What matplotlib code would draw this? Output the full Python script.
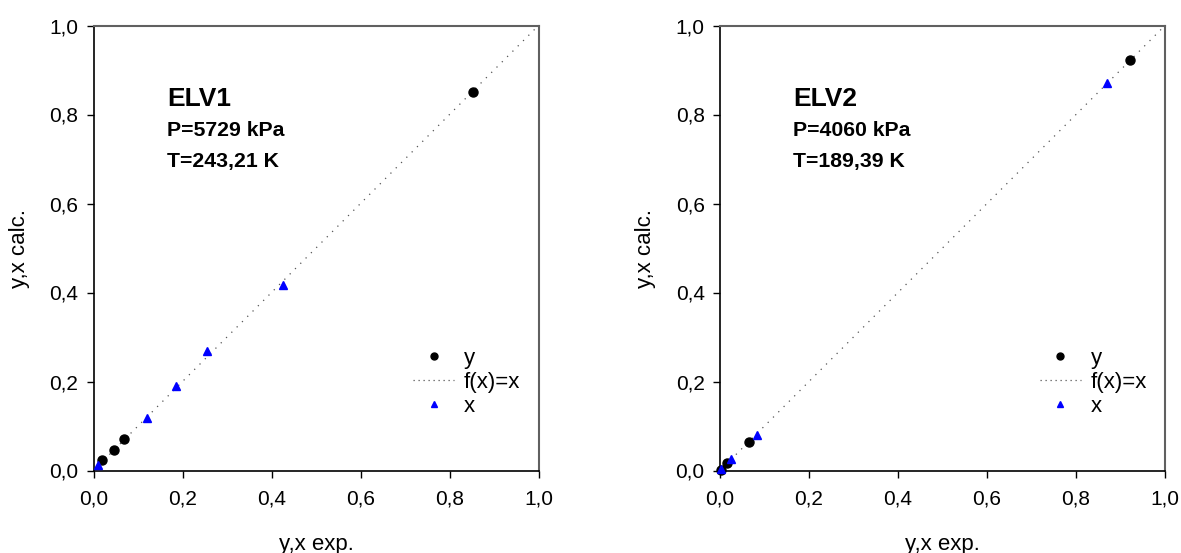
import matplotlib
matplotlib.use("Agg")
import matplotlib.pyplot as plt
from matplotlib.lines import Line2D
from matplotlib.ticker import FuncFormatter
import numpy as np

plt.rcParams["font.family"] = ["Liberation Sans", "DejaVu Sans"]

# ELV1 data
elv1_y_exp = [0.020, 0.045, 0.069, 0.852]
elv1_y_calc = [0.023, 0.046, 0.070, 0.851]
elv1_x_exp = [0.009, 0.120, 0.185, 0.255, 0.426]
elv1_x_calc = [0.012, 0.117, 0.190, 0.268, 0.416]

# ELV2 data
elv2_y_exp = [0.002, 0.016, 0.065, 0.921]
elv2_y_calc = [0.002, 0.017, 0.064, 0.922]
elv2_x_exp = [0.002, 0.025, 0.083, 0.869]
elv2_x_calc = [0.003, 0.026, 0.079, 0.870]

panels = [
    ("ELV1", "P=5729 kPa", "T=243,21 K", elv1_y_exp, elv1_y_calc, elv1_x_exp, elv1_x_calc),
    ("ELV2", "P=4060 kPa", "T=189,39 K", elv2_y_exp, elv2_y_calc, elv2_x_exp, elv2_x_calc),
]

ticks = [0.0, 0.2, 0.4, 0.6, 0.8, 1.0]
W, H = 1181, 553
fig = plt.figure(figsize=(W / 100, H / 100), dpi=100)

lefts = [93.5, 720]
comma = FuncFormatter(lambda v, p: f"{v:.1f}".replace(".", ","))

for left, (name, ptxt, ttxt, ye, yc, xe, xc) in zip(lefts, panels):
    ax = fig.add_axes([left / W, (H - 470.5) / H, 445 / W, 445 / H])
    line = np.array([0, 1])
    ax.plot(line, line, color="#555555", linestyle=(0, (1, 5)), linewidth=0.9)
    ax.plot(ye, yc, "o", color="black", markersize=6.5, clip_on=False, zorder=3)
    ax.plot(xe, xc, "^", color="#0000ff", markersize=6, clip_on=False, zorder=3)

    ax.set_xlim(0, 1)
    ax.set_ylim(0, 1)
    ax.set_xticks(ticks)
    ax.set_yticks(ticks)
    ax.xaxis.set_major_formatter(comma)
    ax.yaxis.set_major_formatter(comma)
    ax.tick_params(direction="out", length=5, width=1, labelsize=15, pad=6)
    ax.tick_params(axis="x", pad=9)

    for s in ["left", "bottom"]:
        ax.spines[s].set_color("black")
        ax.spines[s].set_linewidth(1.2)
    for s in ["top", "right"]:
        ax.spines[s].set_color("#606060")
        ax.spines[s].set_linewidth(1.5)

    ax.set_xlabel("y,x exp.", fontsize=16, labelpad=18)
    ax.set_ylabel("y,x calc.", fontsize=16, labelpad=14)

    ax.text(0.165, 0.862, name, transform=ax.transAxes, fontsize=19,
            fontweight="bold", va="top", ha="left")
    ax.text(0.165, 0.785, ptxt, transform=ax.transAxes, fontsize=15.3,
            fontweight="bold", va="top", ha="left")
    ax.text(0.165, 0.716, ttxt, transform=ax.transAxes, fontsize=15.3,
            fontweight="bold", va="top", ha="left")

    handles = [
        Line2D([], [], marker="o", color="black", linestyle="none", markersize=5),
        Line2D([], [], color="#555555", linestyle=(0, (1, 3)), linewidth=0.9),
        Line2D([], [], marker="^", color="#0000ff", linestyle="none", markersize=5),
    ]
    ax.legend(handles, ["y", "f(x)=x", "x"], frameon=False, fontsize=16,
              loc="center left", bbox_to_anchor=(0.718, 0.198),
              handlelength=1.85, handletextpad=0.45, labelspacing=0.15,
              borderaxespad=0, borderpad=0)

fig.savefig("out.png", dpi=100)
